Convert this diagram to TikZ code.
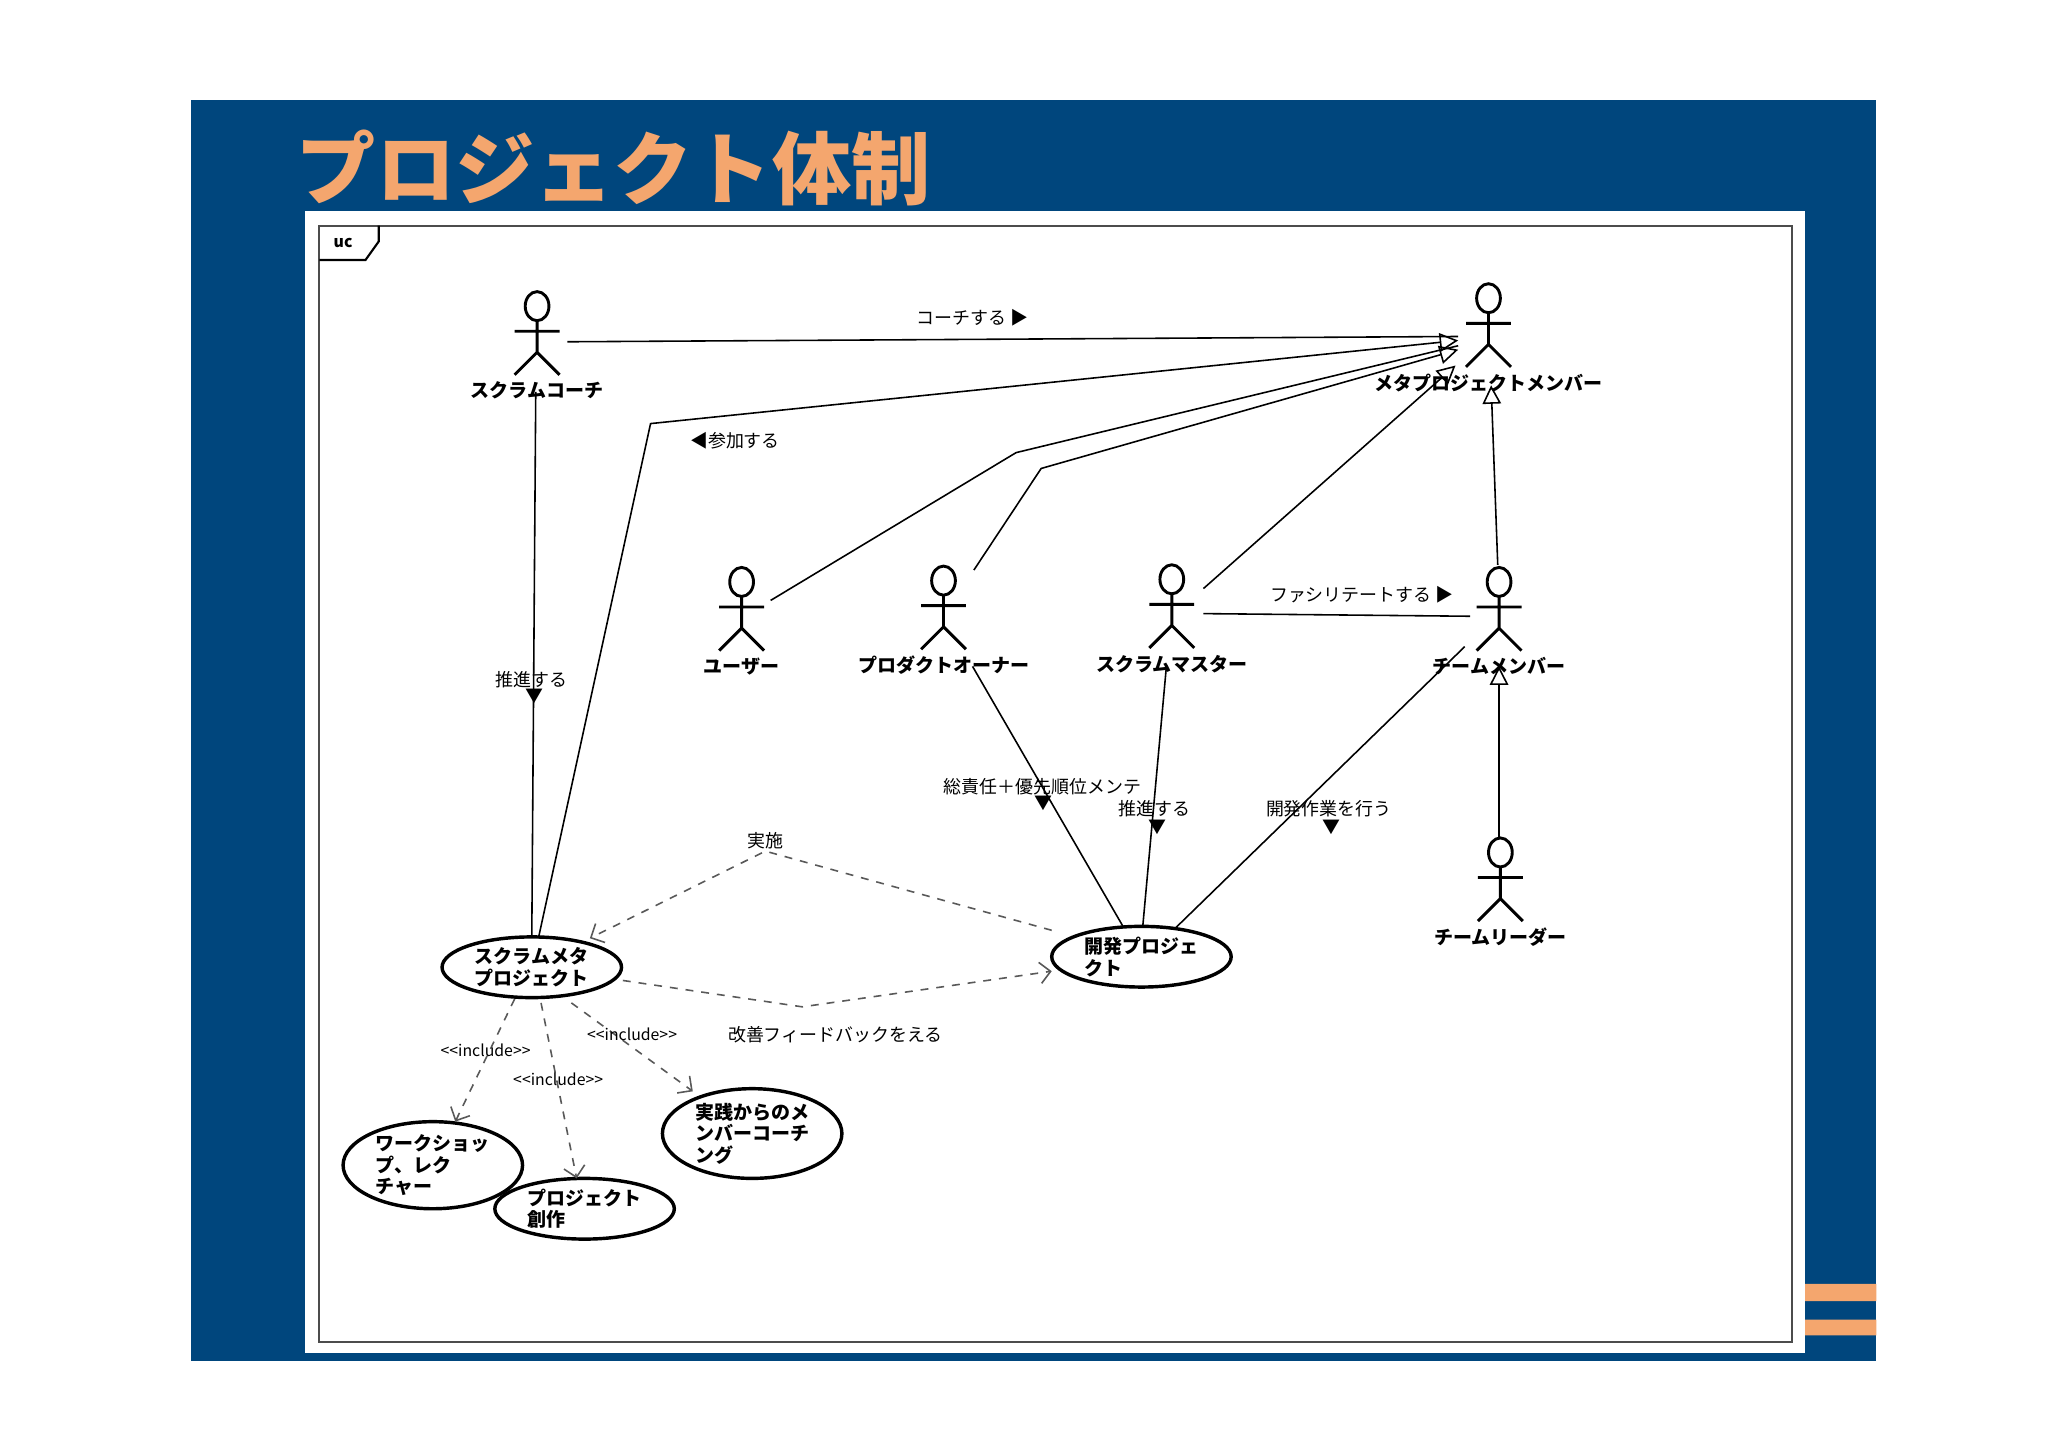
\documentclass[tikz,border=0pt]{standalone}
\usepackage{fontspec}
\setmainfont{Noto Sans CJK JP}
\usetikzlibrary{arrows.meta,shapes.geometric}
\definecolor{bgblue}{RGB}{0,70,125}
\definecolor{ttl}{RGB}{244,166,110}
\newcommand\myactor[4]{% name, x, y(head center), label
  \draw[line width=1.1pt] (#2,#3) ellipse (9 and 11);
  \draw[line width=1.1pt] (#2,#3+11) -- (#2,#3+35) (#2-17,#3+19) -- (#2+17,#3+19)
    (#2-17,#3+52) -- (#2,#3+35) -- (#2+17,#3+52);
  \node[albl] (#1) at (#2,#3+64) {#4};}
\begin{document}
\begin{tikzpicture}[x=0.5pt,y=-0.5pt,
  albl/.style={font=\bfseries\fontsize{7.2}{8}\selectfont},
  lbl/.style={font=\fontsize{6.8}{8}\selectfont},
  inc/.style={font=\fontsize{6}{7}\selectfont},
  uc/.style={draw,line width=1.3pt,ellipse,minimum width=68pt,minimum height=23pt,align=left,font=\bfseries\fontsize{7.2}{8.2}\selectfont,inner sep=0pt},
  ln/.style={line width=0.6pt},
  gen/.style={ln,-{Triangle[open,length=7pt,width=7pt]}},
  dsh/.style={ln,dashed,gray!70!black,-{Straight Barb[length=4pt,width=8pt]}}]
\useasboundingbox (0,0) rectangle (1552,1097);
\fill[white] (0,0) rectangle (1552,1097);
\fill[bgblue] (145,76) rectangle (1422,1031);
\node[anchor=west,text=ttl,font=\bfseries\fontsize{30}{32}\selectfont] (title) at (218,127) {プロジェクト体制};
\fill[white] (231,160) rectangle (1368,1025);
\fill[ttl] (1368,973) rectangle (1422,986) (1368,1000) rectangle (1422,1012);
\draw[line width=0.8pt,gray!60!black] (242,171) rectangle (1358,1017);
\draw[line width=0.8pt] (242,197) -- (277,197) -- (287,183) -- (287,171);
\node[font=\bfseries\fontsize{6}{7}\selectfont] (uctag) at (260,184) {uc};

\myactor{coach}{407}{232}{スクラムコーチ}
\myactor{meta}{1128}{226}{メタプロジェクトメンバー}
\myactor{user}{562}{441}{ユーザー}
\myactor{po}{715}{440}{プロダクトオーナー}
\myactor{sm}{888}{439}{スクラムマスター}
\myactor{tm}{1136}{441}{チームメンバー}
\myactor{tl}{1137}{646}{チームリーダー}

\node[uc] (smp) at (403,733) {スクラムメタ\\プロジェクト};
\node[uc] (dev) at (865,725) {開発プロジェ\\クト};
\node[uc,minimum height=33pt] (ws) at (328,883) {ワークショッ\\プ、レク\\チャー};
\node[uc] (pc) at (443,916) {プロジェクト\\創作};
\node[uc,minimum height=34pt] (mc) at (570,859) {実践からのメ\\ンバーコーチ\\ング};

% associations
\draw[ln] (430,259) -- (1105,255);
\node[lbl] (l1) at (737,241) {コーチする ▶};
\draw[gen] (408,711) -- (493,321) -- (1105,258);
\node[lbl] (l2) at (557,334) {◀参加する};
\draw[ln] (584,455) -- (770,343) -- (1105,262);
\draw[gen] (738,432) -- (789,355) -- (1105,265);
\draw[gen] (912,446) -- (1103,277);
\draw[gen] (1135,428) -- (1130,292);
\draw[gen] (1136,636) -- (1136,505);
\draw[ln] (912,465) -- (1114,467);
\node[lbl] (l3) at (1032,451) {ファシリテートする ▶};
\draw[ln] (406,297) -- (smp.north);
\node[lbl] (l4) at (403,515) {推進する};
\node[lbl] (a4) at (405,528) {▼};
\draw[ln] (737,505) -- (851,702);
\node[lbl] (l5) at (790,596) {総責任＋優先順位メンテ};
\node[lbl] (a5) at (791,609) {▼};
\draw[ln] (884,504) -- (866,702);
\node[lbl] (l6) at (875,613) {推進する};
\node[lbl] (a6) at (877,627) {▼};
\draw[ln] (1110,490) -- (890,704);
\node[lbl] (l7) at (1007,613) {開発作業を行う};
\node[lbl] (a7) at (1009,627) {▼};

% dashed
\draw[dsh] (797,705) -- (580,645) -- (447,711);
\node[lbl] (l8) at (580,637) {実施};
\draw[dsh] (472,743) -- (608,763) -- (797,736);
\node[lbl] (l9) at (633,784) {改善フィードバックをえる};
\draw[dsh] (390,757) -- (345,850);
\node[inc] (i1) at (368,796) {{<}{<}include{>}{>}};
\draw[dsh] (410,760) -- (437,893);
\node[inc] (i2) at (423,818) {{<}{<}include{>}{>}};
\draw[dsh] (433,760) -- (525,827);
\node[inc] (i3) at (479,784) {{<}{<}include{>}{>}};
\end{tikzpicture}
\end{document}
